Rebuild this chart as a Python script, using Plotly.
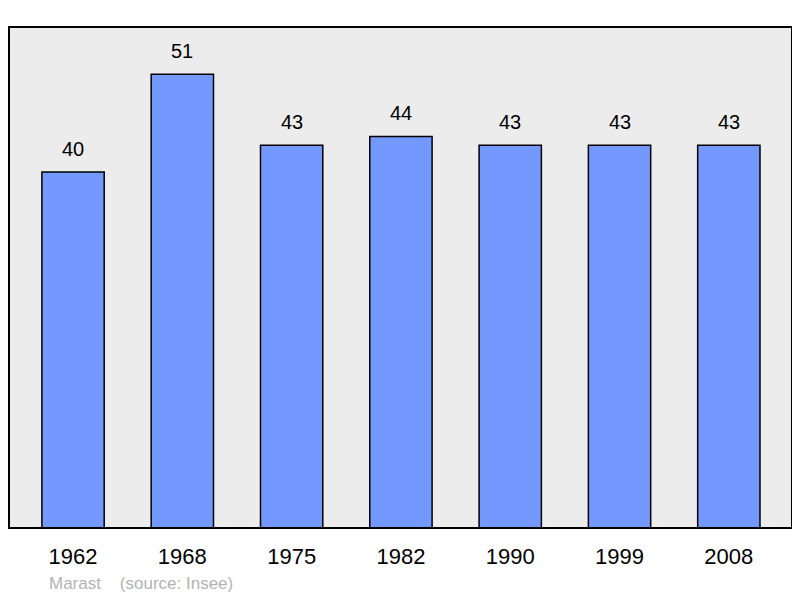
import plotly.graph_objects as go

years = ["1962", "1968", "1975", "1982", "1990", "1999", "2008"]
population = [40, 51, 43, 44, 43, 43, 43]
commune = "Marast"
source = "(source: Insee)"

FONT = "Liberation Sans, Arial, sans-serif"
xs = list(range(len(years)))
fig = go.Figure()
fig.add_trace(go.Bar(
    x=xs, y=population, width=0.57,
    marker=dict(color="#7399ff", line=dict(color="#000000", width=1.5)),
    hoverinfo="skip",
))
for x, v in zip(xs, population):
    fig.add_annotation(x=x, y=v, text=str(v), showarrow=False, yanchor="bottom",
                       yshift=10, font=dict(size=20, color="#000000", family=FONT))

fig.add_annotation(xref="paper", yref="paper", x=(47 - 9) / 783, y=(528 - 583) / 501,
                   xanchor="left", yanchor="middle", showarrow=False,
                   text=commune + "&nbsp;&nbsp;&nbsp;&nbsp;" + source,
                   font=dict(size=17, color="#b3b3b3", family=FONT))

fig.add_shape(type="rect", xref="paper", yref="paper", x0=0, y0=0, x1=1, y1=1,
              line=dict(color="#000000", width=2), layer="above")

fig.update_layout(
    width=792, height=590,
    margin=dict(l=1, r=8, t=19, b=70),
    paper_bgcolor="#ffffff", plot_bgcolor="#ececec",
    showlegend=False,
    font=dict(family=FONT),
    xaxis=dict(range=[-0.586, 6.578], tickmode="array", tickvals=xs, ticktext=years,
               showgrid=False, zeroline=False, ticks="", ticklabelstandoff=13,
               tickfont=dict(size=22, color="#000000")),
    yaxis=dict(range=[0, 56.3], showgrid=False, zeroline=False, showticklabels=False, ticks=""),
)
fig.write_html("out.html")
